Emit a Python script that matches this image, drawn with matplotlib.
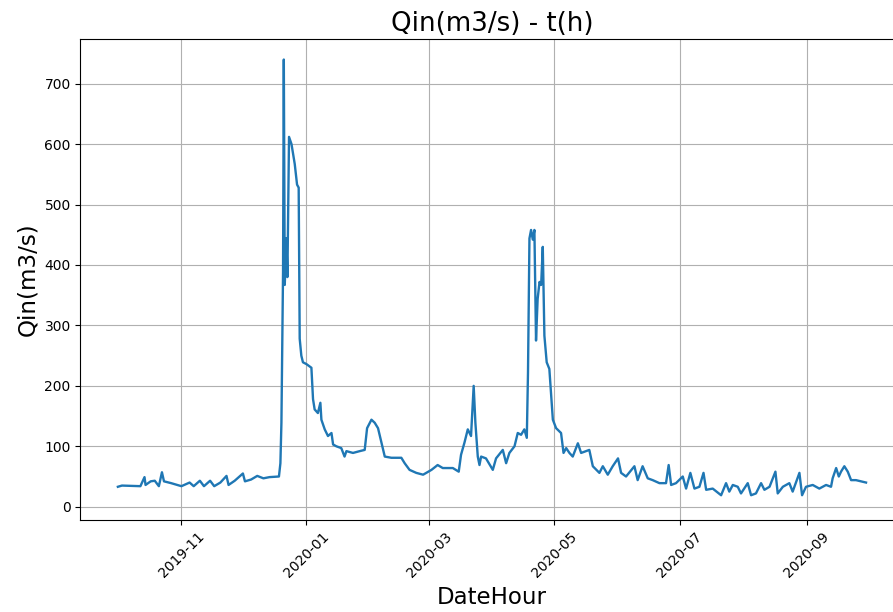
import numpy as np
import pandas as pd
import matplotlib
matplotlib.use("Agg")
import matplotlib.pyplot as plt
import matplotlib.dates as mdates

# hourly inflow at its visible turning points
date_hour = [
    "2019-10-01 00:00", "2019-10-03 00:00", "2019-10-12 00:00", "2019-10-14 00:00", "2019-10-14 12:00",
    "2019-10-17 00:00", "2019-10-19 00:00", "2019-10-21 00:00", "2019-10-22 12:00", "2019-10-23 12:00",
    "2019-10-27 00:00", "2019-11-01 00:00", "2019-11-05 00:00", "2019-11-07 00:00", "2019-11-10 00:00",
    "2019-11-12 00:00", "2019-11-15 00:00", "2019-11-17 00:00", "2019-11-20 00:00", "2019-11-23 00:00",
    "2019-11-24 00:00", "2019-11-27 00:00", "2019-12-01 00:00", "2019-12-02 00:00", "2019-12-05 00:00",
    "2019-12-08 00:00", "2019-12-11 00:00", "2019-12-14 00:00", "2019-12-18 14:00", "2019-12-19 07:00",
    "2019-12-19 19:00", "2019-12-20 02:00", "2019-12-20 14:00", "2019-12-20 23:00", "2019-12-21 10:00",
    "2019-12-22 05:00", "2019-12-22 17:00", "2019-12-23 12:00", "2019-12-24 17:00", "2019-12-26 07:00",
    "2019-12-27 10:00", "2019-12-28 05:00", "2019-12-28 17:00", "2019-12-29 12:00", "2019-12-30 07:00",
    "2020-01-01 00:00", "2020-01-03 10:00", "2020-01-04 05:00", "2020-01-05 00:00", "2020-01-06 14:00",
    "2020-01-07 19:00", "2020-01-08 07:00", "2020-01-09 22:00", "2020-01-11 12:00", "2020-01-13 05:00",
    "2020-01-14 00:00", "2020-01-15 14:00", "2020-01-18 00:00", "2020-01-19 14:00", "2020-01-20 12:00",
    "2020-01-23 17:00", "2020-01-27 00:00", "2020-01-29 10:00", "2020-01-30 14:00", "2020-02-01 17:00",
    "2020-02-03 07:00", "2020-02-04 22:00", "2020-02-06 14:00", "2020-02-08 05:00", "2020-02-11 10:00",
    "2020-02-16 07:00", "2020-02-17 22:00", "2020-02-20 07:00", "2020-02-23 14:00", "2020-02-26 22:00",
    "2020-03-02 00:00", "2020-03-05 00:00", "2020-03-07 12:00", "2020-03-12 10:00", "2020-03-15 07:00",
    "2020-03-16 10:00", "2020-03-18 02:00", "2020-03-19 17:00", "2020-03-21 07:00", "2020-03-22 14:00",
    "2020-03-23 10:00", "2020-03-24 14:00", "2020-03-25 10:00", "2020-03-26 05:00", "2020-03-28 14:00",
    "2020-03-31 22:00", "2020-04-02 12:00", "2020-04-05 19:00", "2020-04-07 10:00", "2020-04-09 00:00",
    "2020-04-11 12:00", "2020-04-13 02:00", "2020-04-14 17:00", "2020-04-16 07:00", "2020-04-17 12:00",
    "2020-04-18 02:00", "2020-04-18 19:00", "2020-04-19 14:00", "2020-04-20 10:00", "2020-04-21 05:00",
    "2020-04-22 00:00", "2020-04-22 19:00", "2020-04-23 17:00", "2020-04-24 12:00", "2020-04-25 07:00",
    "2020-04-26 02:00", "2020-04-27 05:00", "2020-04-28 12:00", "2020-04-30 05:00", "2020-05-01 19:00",
    "2020-05-04 05:00", "2020-05-05 10:00", "2020-05-06 17:00", "2020-05-08 07:00", "2020-05-09 22:00",
    "2020-05-12 10:00", "2020-05-14 00:00", "2020-05-18 00:00", "2020-05-19 17:00", "2020-05-22 22:00",
    "2020-05-24 14:00", "2020-05-27 00:00", "2020-05-29 10:00", "2020-06-01 00:00", "2020-06-02 12:00",
    "2020-06-04 22:00", "2020-06-09 00:00", "2020-06-10 14:00", "2020-06-13 00:00", "2020-06-15 12:00",
    "2020-06-17 22:00", "2020-06-21 05:00", "2020-06-24 10:00", "2020-06-25 17:00", "2020-06-26 22:00",
    "2020-06-29 07:00", "2020-07-02 14:00", "2020-07-04 05:00", "2020-07-06 07:00", "2020-07-08 07:00",
    "2020-07-10 17:00", "2020-07-12 17:00", "2020-07-14 00:00", "2020-07-17 05:00", "2020-07-21 07:00",
    "2020-07-23 17:00", "2020-07-25 07:00", "2020-07-27 00:00", "2020-07-29 10:00", "2020-07-31 00:00",
    "2020-08-03 07:00", "2020-08-04 22:00", "2020-08-07 07:00", "2020-08-09 19:00", "2020-08-11 10:00",
    "2020-08-13 22:00", "2020-08-16 19:00", "2020-08-17 22:00", "2020-08-20 10:00", "2020-08-23 14:00",
    "2020-08-25 05:00", "2020-08-28 12:00", "2020-08-29 19:00", "2020-08-31 17:00", "2020-09-04 00:00",
    "2020-09-07 05:00", "2020-09-10 12:00", "2020-09-12 22:00", "2020-09-13 17:00", "2020-09-15 10:00",
    "2020-09-16 17:00", "2020-09-17 19:00", "2020-09-19 10:00", "2020-09-21 02:00", "2020-09-22 17:00",
    "2020-09-25 02:00", "2020-09-30 00:00",
]
qin = [
    33, 35, 34, 49, 36,
    42, 43, 34, 57, 42,
    39, 34, 40, 34, 43,
    34, 43, 34, 40, 51,
    36, 43, 55, 42, 45,
    51, 47, 49, 50, 72,
    139, 230, 389, 740, 367,
    444, 380, 612, 600, 567,
    533, 528, 278, 250, 239,
    236, 230, 178, 161, 155,
    172, 144, 128, 117, 122,
    103, 100, 97, 83, 92,
    89, 92, 94, 130, 144,
    139, 130, 106, 83, 81,
    81, 72, 61, 56, 53,
    61, 69, 64, 64, 58,
    86, 106, 128, 117, 200,
    139, 83, 69, 83, 80,
    61, 80, 94, 72, 89,
    100, 122, 119, 128, 114,
    222, 444, 458, 442, 458,
    275, 344, 372, 367, 430,
    283, 239, 228, 144, 130,
    122, 89, 97, 89, 83,
    105, 89, 94, 67, 56,
    67, 53, 67, 80, 56,
    50, 67, 44, 67, 47,
    44, 39, 39, 69, 36,
    39, 50, 30, 56, 30,
    33, 56, 28, 30, 19,
    39, 25, 36, 33, 22,
    39, 19, 22, 39, 28,
    33, 58, 22, 33, 39,
    25, 56, 19, 33, 36,
    30, 36, 33, 47, 64,
    50, 58, 67, 58, 44,
    44, 40,
]

df = pd.DataFrame({"DateHour": pd.to_datetime(date_hour), "Qin": qin})

fig = plt.figure(figsize=(8.93, 6.12), dpi=100)
# right spine falls just outside the saved picture, as in the original
ax = fig.add_axes([0.0901, 0.1503, 0.9216, 0.786])

ax.plot(df["DateHour"], df["Qin"], color="#1f77b4", linewidth=1.7)

ax.set_title("Qin(m3/s) - t(h)", fontsize=18.8)
ax.set_xlabel("DateHour", fontsize=16.5)
ax.set_ylabel("Qin(m3/s)", fontsize=16.6)
ax.set_ylim(-22, 774)
ax.set_yticks(np.arange(0, 800, 100))

ax.xaxis.set_major_locator(mdates.MonthLocator(bymonth=[1, 3, 5, 7, 9, 11]))
ax.xaxis.set_major_formatter(mdates.DateFormatter("%Y-%m"))
plt.setp(ax.get_xticklabels(), rotation=45)
ax.grid(True)

fig.savefig("out.png", dpi=100)
